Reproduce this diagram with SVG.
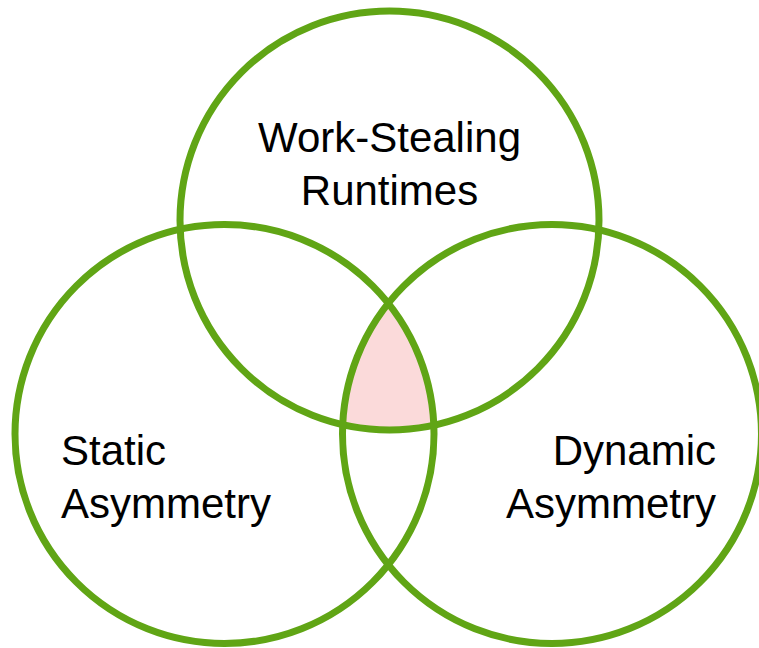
<svg xmlns="http://www.w3.org/2000/svg" width="759" height="648" viewBox="0 0 759 648">
<style>
.c{fill:none;stroke:#60a515;stroke-width:7}
.t{font-family:"Liberation Sans",Arial,sans-serif;font-size:42px;fill:#000}
</style>
<defs>
<clipPath id="clL"><circle cx="224.5" cy="434" r="209.5"/></clipPath>
<clipPath id="clR"><circle cx="552" cy="434" r="209.5"/></clipPath>
</defs>
<rect width="759" height="648" fill="#fff"/>
<g id="intersection" clip-path="url(#clL)"><g clip-path="url(#clR)"><circle cx="389.5" cy="220.5" r="209.5" fill="#fbdada"/></g></g>
<g id="work-stealing">
<circle class="c" cx="389.5" cy="220.5" r="209.5"/>
<text class="t" x="389.5" y="152" text-anchor="middle">Work-Stealing</text>
<text class="t" x="389.5" y="205" text-anchor="middle">Runtimes</text>
</g>
<g id="static">
<circle class="c" cx="224.5" cy="434" r="209.5"/>
<text class="t" x="61" y="465">Static</text>
<text class="t" x="61" y="518">Asymmetry</text>
</g>
<g id="dynamic">
<circle class="c" cx="552" cy="434" r="209.5"/>
<text class="t" x="716" y="465" text-anchor="end">Dynamic</text>
<text class="t" x="716" y="518" text-anchor="end">Asymmetry</text>
</g>
<g id="connectors"/>
</svg>
